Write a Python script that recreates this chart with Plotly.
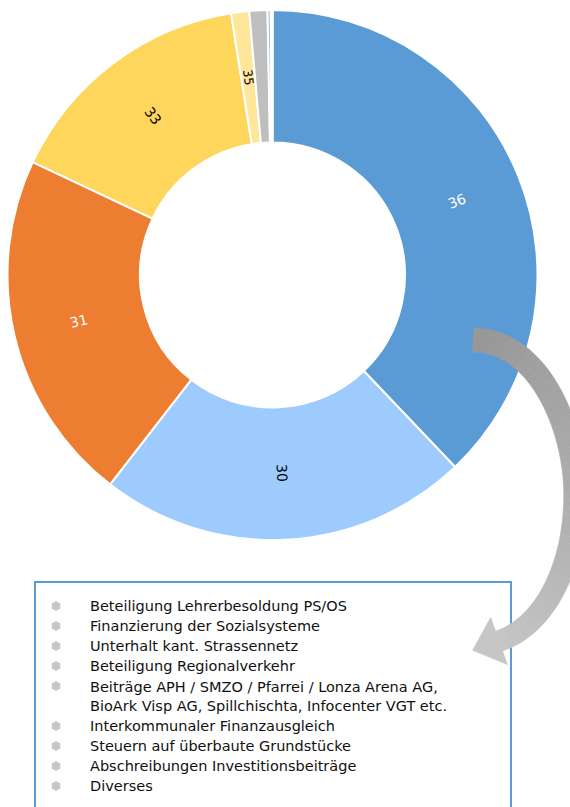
import plotly.graph_objects as go
import numpy as np

W, H = 570, 807
OFF = 0  # body margin removed via post_script

# ---- data ----
categories = [
    "Beteiligung Lehrerbesoldung PS/OS",
    "Finanzierung der Sozialsysteme",
    "Unterhalt kant. Strassennetz",
    "Beteiligung Regionalverkehr",
    "Beiträge APH / SMZO / Pfarrei / Lonza Arena AG,<br>BioArk Visp AG, Spillchischta, Infocenter VGT etc.",
    "Interkommunaler Finanzausgleich",
    "Steuern auf überbaute Grundstücke",
    "Abschreibungen Investitionsbeiträge",
    "Diverses",
]
shares = [37.9, 22.6, 21.5, 15.5, 1.1, 1.1, 0.2, 0.1, 0.0]
slice_labels = ["36", "30", "31", "33", "35", "", "", "", ""]
slice_colors = ["#5b9bd5", "#9dcbfd", "#ed7d31", "#fed65c", "#ffe699",
                "#bfbfbf", "#9dc3e6", "#a9d18e", "#7f7f7f"]
text_colors = ["white", "black", "white", "black", "black",
               "black", "black", "black", "black"]
label_sizes = [14, 14, 14, 14, 12.5, 12, 12, 12, 12]

FONT = "DejaVu Sans"

def px(x):
    return (x - OFF) / W

def py(y):
    return 1 - (y - OFF) / H

fig = go.Figure()

# donut
cx, cy, r = 272.5, 275, 265
fig.add_trace(go.Pie(
    labels=categories,
    values=shares,
    textinfo="none",
    marker=dict(colors=slice_colors, line=dict(color="white", width=2)),
    hole=0.5,
    sort=False,
    direction="clockwise",
    rotation=0,
    showlegend=False,
    hoverinfo="label+value",
    domain=dict(x=[0, 2 * px(cx)], y=[py(cy + r), py(cy - r)]),
))

# radial slice labels, placed at each slice's mid-angle
total = sum(shares)
cum = np.cumsum(shares)
rmid = 0.75 * r
for lab, s, c, col, fs in zip(slice_labels, shares, cum, text_colors, label_sizes):
    if not lab:
        continue
    theta = (c - s / 2) / total * 360.0
    th = np.radians(theta)
    lx = cx + rmid * np.sin(th)
    ly = cy - rmid * np.cos(th)
    ang = theta - 90 if theta < 180 else theta - 270
    fig.add_annotation(x=lx, y=ly, xref="x", yref="y", text=lab, showarrow=False,
                       textangle=ang, xanchor="center", yanchor="middle",
                       font=dict(family=FONT, size=fs, color=col))

# custom legend (gray hexagon bullets)
row_y = [606, 626, 646, 666, 686, 726, 746, 766, 786]
text_y = [606, 626, 646, 666, 696, 726, 746, 766, 786]
fig.add_trace(go.Scatter(
    x=[56] * len(categories), y=row_y, mode="markers",
    marker=dict(symbol="hexagon", size=10, color="#c8c8c8"),
    showlegend=False, hoverinfo="skip", xaxis="x", yaxis="y",
))
for lab, ty in zip(categories, text_y):
    fig.add_annotation(x=88, y=ty, xref="x", yref="y", text=lab,
                       showarrow=False, xanchor="left", yanchor="middle",
                       align="left",
                       font=dict(family=FONT, size=14.5, color="#111111"))

shapes = []
# legend box
shapes.append(dict(type="rect", xref="paper", yref="paper",
                   x0=px(35), x1=px(511), y0=py(840), y1=py(582),
                   line=dict(color="#5b9bd5", width=2), fillcolor="rgba(0,0,0,0)"))

# curved arrow: centerline via two cubic beziers
def bez(p0, p1, p2, p3, n):
    t = np.linspace(0, 1, n)[:, None]
    return ((1 - t) ** 3) * p0 + 3 * ((1 - t) ** 2) * t * p1 + 3 * (1 - t) * t ** 2 * p2 + t ** 3 * p3

A = [np.array(p, float) for p in [(473, 340), (540, 340), (577, 430), (575, 500)]]
B = [np.array(p, float) for p in [(575, 500), (573, 575), (540, 628), (499, 641)]]
c1 = bez(*A, 30)
c2 = bez(*B, 30)[1:]
cl = np.vstack([c1, c2])
n = len(cl)
tang = np.gradient(cl, axis=0)
tang /= np.linalg.norm(tang, axis=1)[:, None]
norm = np.stack([-tang[:, 1], tang[:, 0]], axis=1)
widths = np.linspace(24, 21, n)
left = cl + norm * (widths[:, None] / 2)
right = cl - norm * (widths[:, None] / 2)

def gray(t):
    a = np.array([0x98, 0x98, 0x98]); b = np.array([0xc6, 0xc6, 0xc6])
    c = (a + (b - a) * t).astype(int)
    return "rgb(%d,%d,%d)" % tuple(c)

for i in range(n - 1):
    pts = [left[i], left[i + 1], right[i + 1], right[i]]
    path = "M " + " L ".join("%f,%f" % (px(p[0]), py(p[1])) for p in pts) + " Z"
    col = gray(i / (n - 2))
    shapes.append(dict(type="path", xref="paper", yref="paper", path=path,
                       fillcolor=col, line=dict(color=col, width=0.6)))

# arrow head
end = cl[-1]
d = tang[-1]
nn = norm[-1]
tip = end + d * 28
w1 = end + nn * 25
w2 = end - nn * 25
hp = [w1, tip, w2]
path = "M " + " L ".join("%f,%f" % (px(p[0]), py(p[1])) for p in hp) + " Z"
shapes.append(dict(type="path", xref="paper", yref="paper", path=path,
                   fillcolor="rgb(198,198,198)", line=dict(color="rgb(198,198,198)", width=0.6)))

fig.update_layout(
    width=W, height=H,
    margin=dict(l=0, r=0, t=0, b=0),
    paper_bgcolor="white", plot_bgcolor="rgba(0,0,0,0)",
    xaxis=dict(range=[OFF, W + OFF], domain=[0, 1], visible=False, fixedrange=True),
    yaxis=dict(range=[H + OFF, OFF], domain=[0, 1], visible=False, fixedrange=True),
    shapes=shapes,
    showlegend=False,
)

fig.write_html(
    "out.html",
    config={"displayModeBar": False},
    post_script="document.body.style.margin='0';document.body.style.overflow='hidden';",
)
